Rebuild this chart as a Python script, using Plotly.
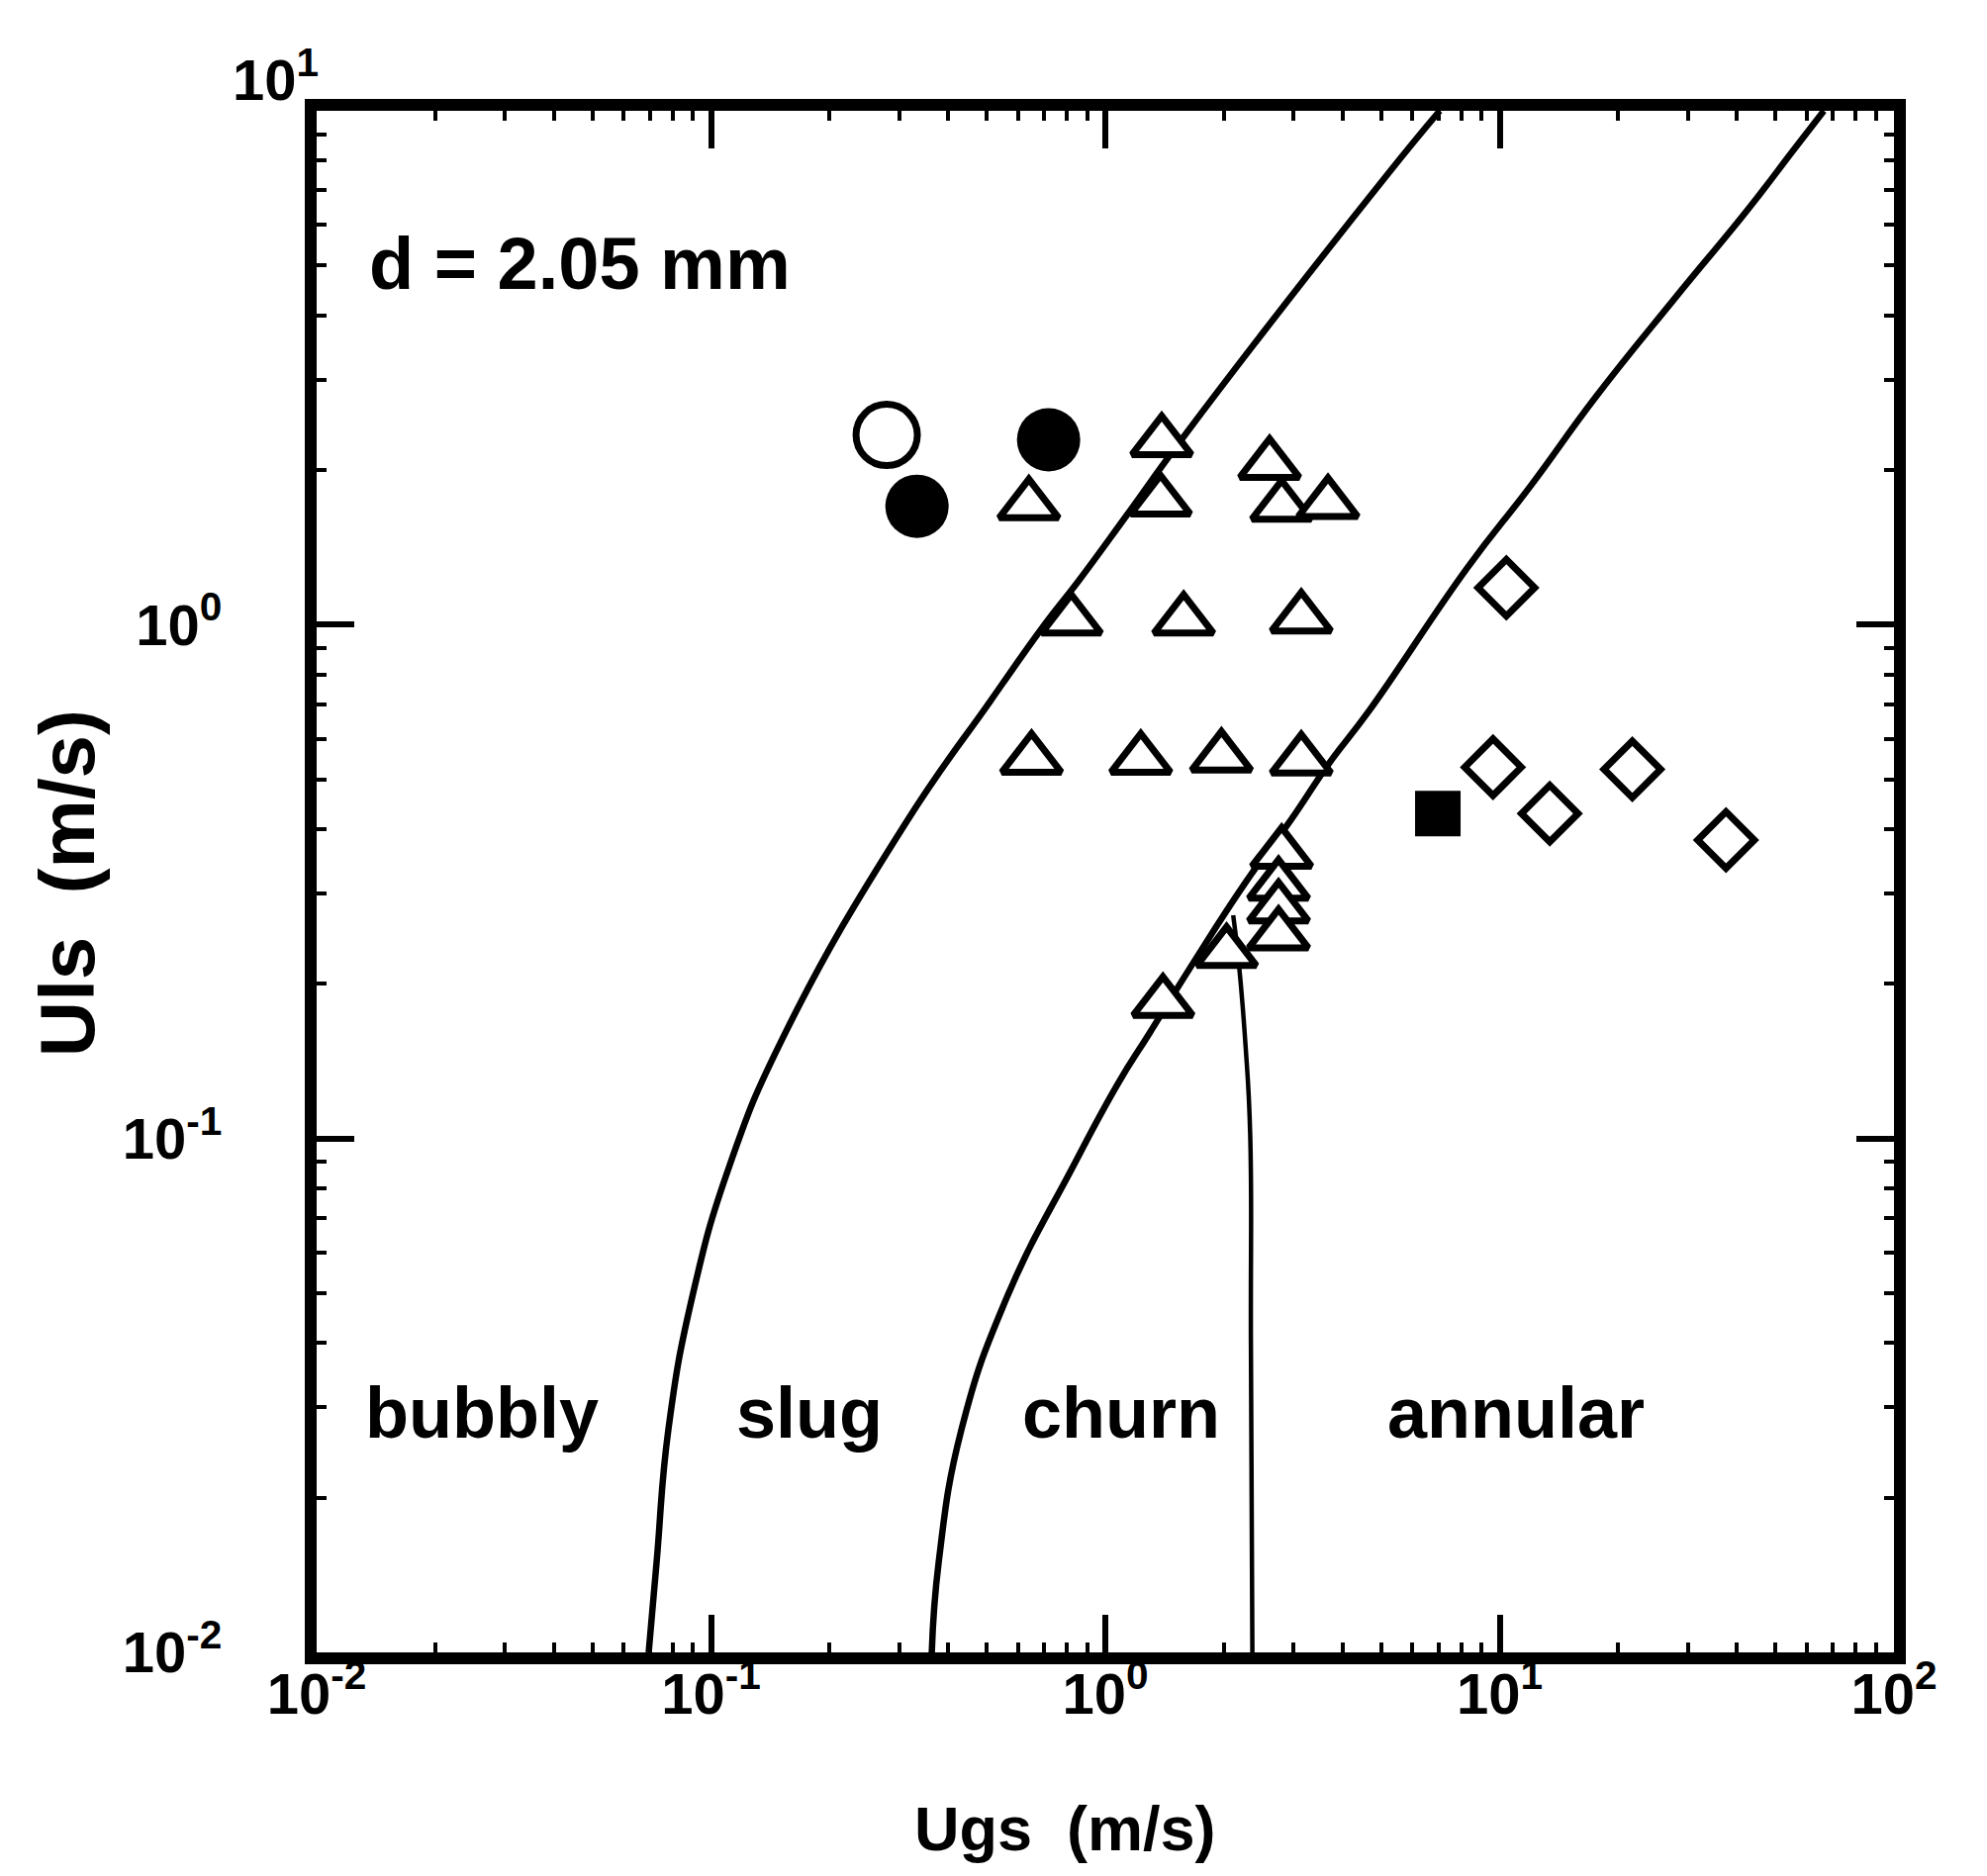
import plotly.graph_objects as go

# Superficial gas velocity Ugs and superficial liquid velocity Uls (m/s), tube d = 2.05 mm
circle_open_ugs = [0.279]
circle_open_uls = [2.34]

circle_filled_ugs = [0.333, 0.718]
circle_filled_uls = [1.70, 2.29]

triangle_ugs = [1.39, 0.64, 1.38, 2.61, 2.80, 3.67,
                0.82, 1.58, 3.14,
                0.65, 1.23, 1.97, 3.14,
                2.80, 2.75, 2.75, 2.75, 2.03, 1.40]
triangle_uls = [2.27, 1.71, 1.74, 2.05, 1.70, 1.72,
                1.02, 1.02, 1.03,
                0.547, 0.547, 0.552, 0.545,
                0.359, 0.311, 0.281, 0.249, 0.230, 0.184]

diamond_ugs = [10.4, 9.62, 13.4, 21.7, 37.5]
diamond_uls = [1.18, 0.528, 0.429, 0.523, 0.381]

square_ugs = [6.97]
square_uls = [0.429]

# Flow-regime transition boundaries
bubbly_slug_ugs = [0.0695, 0.0728, 0.0780, 0.0896, 0.1114, 0.154, 0.311,
                   0.511, 0.697, 0.853, 1.132, 1.581, 5.13, 7.05]
bubbly_slug_uls = [0.0100, 0.0150, 0.0272, 0.0491, 0.0885, 0.160, 0.410,
                   0.710, 0.994, 1.213, 1.631, 2.323, 7.43, 10.0]

slug_churn_ugs = [0.363, 0.378, 0.432, 0.563, 0.830, 1.075, 1.292, 1.656, 2.274,
                  2.950, 3.692, 4.68, 8.28, 11.98, 17.52, 27.80, 42.60, 55.53, 66.4]
slug_churn_uls = [0.0100, 0.0150, 0.0272, 0.0491, 0.0885, 0.1277, 0.160, 0.2173, 0.3161,
                  0.416, 0.537, 0.682, 1.290, 1.862, 2.773, 4.314, 6.425, 8.375, 10.0]

churn_annular_ugs = [2.11, 2.18, 2.27, 2.33, 2.34, 2.36]
churn_annular_uls = [0.272, 0.220, 0.150, 0.102, 0.040, 0.010]

# Axis ticks
x_tick_vals = [0.01, 0.1, 1, 10, 100]
x_tick_text = ["10<sup>-2</sup>", "10<sup>-1</sup>", "10<sup>0</sup>", "10<sup>1</sup>", "10<sup>2</sup>"]
y_tick_vals = [0.01, 0.1, 1]
y_tick_text = ["10<sup>-2</sup>", "10<sup>-1</sup>", "10<sup>0</sup>"]
y_top_tick_text = "10<sup>1</sup>"

# Regime names
regime_names = ["bubbly", "slug", "churn", "annular"]

FONT = "Liberation Sans, Arial, Helvetica, sans-serif"
INK = "black"

fig = go.Figure()

for xs, ys, w in [(bubbly_slug_ugs, bubbly_slug_uls, 6.5),
                  (slug_churn_ugs, slug_churn_uls, 6.5),
                  (churn_annular_ugs, churn_annular_uls, 4.5)]:
    fig.add_trace(go.Scatter(x=xs, y=ys, mode="lines",
                             line=dict(color=INK, width=w, shape="spline", smoothing=1.3),
                             hoverinfo="skip"))

fig.add_trace(go.Scatter(x=triangle_ugs, y=triangle_uls, mode="markers",
                         marker=dict(symbol="triangle-up", size=52, color="white",
                                     line=dict(color=INK, width=7))))
fig.add_trace(go.Scatter(x=circle_open_ugs, y=circle_open_uls, mode="markers",
                         marker=dict(symbol="circle", size=62, color="white",
                                     line=dict(color=INK, width=7))))
fig.add_trace(go.Scatter(x=circle_filled_ugs, y=circle_filled_uls, mode="markers",
                         marker=dict(symbol="circle", size=64, color=INK,
                                     line=dict(color=INK, width=0))))
fig.add_trace(go.Scatter(x=diamond_ugs, y=diamond_uls, mode="markers",
                         marker=dict(symbol="diamond", size=44, color="white",
                                     line=dict(color=INK, width=7))))
fig.add_trace(go.Scatter(x=square_ugs, y=square_uls, mode="markers",
                         marker=dict(symbol="square", size=46, color=INK,
                                     line=dict(color=INK, width=0))))

minor_vals = [d * 10.0 ** k for k in range(-2, 2) for d in range(2, 10)]

tick_font = dict(family=FONT, size=58, color=INK, weight="bold")
axis_common = dict(
    type="log",
    showline=True, linecolor=INK, linewidth=12, mirror="allticks",
    ticks="inside", ticklen=38, tickwidth=6, tickcolor=INK,
    showgrid=False, zeroline=False,
    tickfont=tick_font,
    minor=dict(ticks="inside", ticklen=10, tickwidth=4, tickcolor=INK,
               tickmode="array", tickvals=minor_vals, showgrid=False),
)

fig.update_xaxes(range=[-2, 2], tickmode="array", tickvals=x_tick_vals,
                 ticktext=x_tick_text, ticklabelstandoff=-20, **axis_common)
fig.update_yaxes(range=[-2, 1], tickmode="array", tickvals=y_tick_vals,
                 ticktext=y_tick_text, ticklabelstandoff=72, **axis_common)

label_font = dict(family=FONT, size=72, color=INK, weight="bold")
annotations = [
    dict(text=y_top_tick_text, x=0.0, y=1.0, xref="paper", yref="y",
         xanchor="right", yanchor="middle", xshift=4, yshift=36, font=tick_font),
    dict(text="d = 2.05 mm", x=0.032, y=0.901, xanchor="left", yanchor="middle",
         font=dict(family=FONT, size=74, color=INK, weight="bold")),
    dict(text="Ugs  (m/s)", x=0.4743, y=-0.114, xanchor="center", yanchor="middle",
         font=dict(family=FONT, size=63, color=INK, weight="bold")),
    dict(text="Uls  (m/s)", x=-0.158, y=0.4987, xanchor="center", yanchor="middle",
         textangle=-90, font=dict(family=FONT, size=78, color=INK, weight="bold")),
]
for name, px in zip(regime_names, [0.1048, 0.3124, 0.510, 0.7604]):
    annotations.append(dict(text=name, x=px, y=0.1553, xanchor="center",
                            yanchor="middle", font=label_font))
for a in annotations:
    a.setdefault("xref", "paper")
    a.setdefault("yref", "paper")
    a["showarrow"] = False

fig.update_layout(
    width=2008, height=1896,
    margin=dict(l=320, r=94, t=112, b=226),
    paper_bgcolor="white", plot_bgcolor="white",
    showlegend=False,
    annotations=annotations,
)

fig.write_html("out.html")
